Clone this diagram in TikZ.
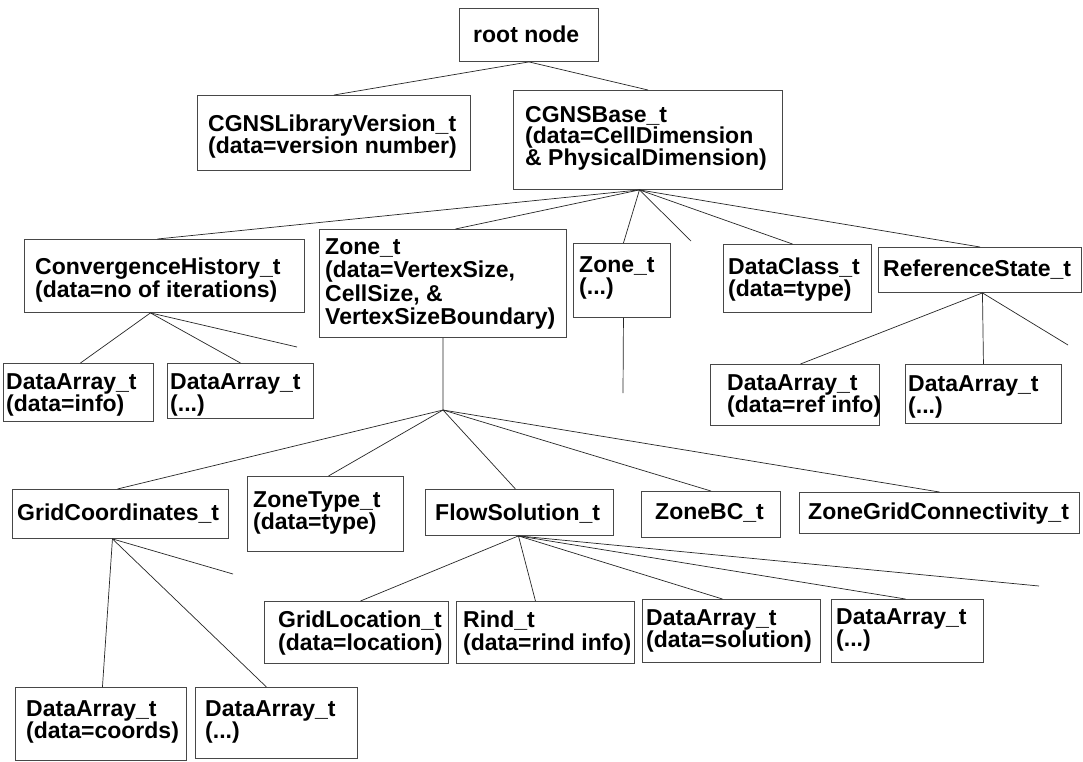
\documentclass[tikz,border=0pt]{standalone}
\usepackage{fontspec}
\setmainfont{Liberation Sans}
\usetikzlibrary{calc}
\tikzset{
  boxst/.style={draw=black!72, line width=0.9pt, inner sep=0pt, anchor=north west, fill=white},
  txt/.style={font=\fontsize{23}{#1}\selectfont\bfseries, inner sep=0pt, anchor=north west, align=left},
  txt/.default=21,
  link/.style={draw=black!85, line width=0.7pt}
}
\newcommand\cgbox[5]{%
  \pgfmathsetmacro\cgw{#4-#2}\pgfmathsetmacro\cgh{#5-#3}%
  \node[boxst, minimum width=\cgw pt, minimum height=\cgh pt] (#1) at (#2,#3) {};}
\begin{document}
\begin{tikzpicture}[x=1pt,y=-1pt]
\fill[white] (0,0) rectangle (1083,761);
\useasboundingbox (0,0) rectangle (1083,761);

% boxes
\cgbox{root}{459}{8}{598}{61}
\cgbox{lib}{197}{95}{470}{170}
\cgbox{base}{513}{90}{782}{189}
\cgbox{conv}{24}{239}{304}{312}
\cgbox{zone}{319}{229}{566}{337}
\cgbox{zonetwo}{573}{243}{670}{317}
\cgbox{dclass}{723}{244}{871}{312}
\cgbox{refst}{878}{247}{1081}{292}
\cgbox{dainfo}{3}{363}{153}{421}
\cgbox{daconv}{167}{363}{313}{418}
\cgbox{daref}{710}{364}{879}{425}
\cgbox{darefb}{905}{364}{1061}{423}
\cgbox{grid}{12}{489}{228}{538}
\cgbox{ztype}{247}{476}{403}{551}
\cgbox{flow}{425}{489}{613}{535}
\cgbox{zbc}{641}{491}{780}{537}
\cgbox{zgc}{799}{492}{1079}{533}
\cgbox{gloc}{264}{601}{448}{663}
\cgbox{rind}{456}{601}{634}{663}
\cgbox{dasol}{642}{599}{820}{662}
\cgbox{daflow}{831}{599}{983}{662}
\cgbox{dacoord}{15}{687}{186}{760}
\cgbox{dagrid}{195}{687}{357}{758}

% texts
\node[txt] (root-t) at (473,25.5) {root node};
\node[txt=20.5] (lib-t) at (208,114.5) {CGNSLibraryVersion\_t\\(data=version number)};
\node[txt=21.5] (base-t) at (525,106) {CGNSBase\_t\\(data=CellDimension\\\& PhysicalDimension)};
\node[txt=21] (conv-t) at (35,258) {ConvergenceHistory\_t\\(data=no of iterations)};
\node[txt=23.3] (zone-t) at (325,238.5) {Zone\_t\\(data=VertexSize,\\CellSize, \&\\VertexSizeBoundary)};
\node[txt=22] (zonetwo-t) at (579,256.5) {Zone\_t\\(...)};
\node[txt=21.5] (dclass-t) at (728,258) {DataClass\_t\\(data=type)};
\node[txt] (refst-t) at (883,259.5) {ReferenceState\_t};
\node[txt=22] (dainfo-t) at (6,373.5) {DataArray\_t\\(data=info)};
\node[txt=22] (daconv-t) at (170,373.5) {DataArray\_t\\(...)};
\node[txt] (daref-t) at (727,374.5) {DataArray\_t\\(data=ref info)};
\node[txt] (darefb-t) at (908,375.5) {DataArray\_t\\(...)};
\node[txt] (grid-t) at (17,503.5) {GridCoordinates\_t};
\node[txt=22] (ztype-t) at (253,491.5) {ZoneType\_t\\(data=type)};
\node[txt] (flow-t) at (435,503.5) {FlowSolution\_t};
\node[txt] (zbc-t) at (655,503.5) {ZoneBC\_t};
\node[txt] (zgc-t) at (808,502.5) {ZoneGridConnectivity\_t};
\node[txt=23] (gloc-t) at (278,610.5) {GridLocation\_t\\(data=location)};
\node[txt=23] (rind-t) at (463,610.5) {Rind\_t\\(data=rind info)};
\node[txt=22] (dasol-t) at (646,609.5) {DataArray\_t\\(data=solution)};
\node[txt=22] (daflow-t) at (836,608.5) {DataArray\_t\\(...)};
\node[txt] (dacoord-t) at (26,700.5) {DataArray\_t\\(data=coords)};
\node[txt] (dagrid-t) at (205,700.5) {DataArray\_t\\(...)};

% junctions and free ends
\coordinate (zhub) at (443,410);
\coordinate (ztwoend) at (623,393);
\coordinate (basefree) at (691,241);
\coordinate (convfree) at (297,347);
\coordinate (reffree) at (1068,345);
\coordinate (gridfree) at (233,574);
\coordinate (flowfree) at (1039,586);

% connectors
\draw[link] (root.south) -- (lib.north);
\draw[link] (root.south) -- (base.north);

\draw[link] ([xshift=-8.5pt]base.south) -- ([xshift=-7pt]conv.north);
\draw[link] ([xshift=-8.5pt]base.south) -- ([xshift=12.5pt]zone.north);
\draw[link] ([xshift=-8.5pt]base.south) -- ([xshift=1.5pt]zonetwo.north);
\draw[link] ([xshift=-8.5pt]base.south) -- (basefree);
\draw[link] ([xshift=-8.5pt]base.south) -- ([xshift=-5pt]dclass.north);
\draw[link] ([xshift=-8.5pt]base.south) -- (refst.north);

\draw[link] ([xshift=-14pt]conv.south) -- ([xshift=2pt]dainfo.north);
\draw[link] ([xshift=-14pt]conv.south) -- (daconv.north);
\draw[link] ([xshift=-14pt]conv.south) -- (convfree);

\draw[link] ([xshift=1.5pt]zonetwo.south) -- (ztwoend);

\draw[link] ([xshift=2.5pt]refst.south) -- ([xshift=5.5pt]daref.north);
\draw[link] ([xshift=2.5pt]refst.south) -- (darefb.north);
\draw[link] ([xshift=2.5pt]refst.south) -- (reffree);

\draw[link] (zone.south) -- (zhub);
\draw[link] (zhub) -- ([xshift=-3pt]grid.north);
\draw[link] (zhub) -- ([xshift=3pt]ztype.north);
\draw[link] (zhub) -- ([xshift=-4pt]flow.north);
\draw[link] (zhub) -- (zbc.north);
\draw[link] (zhub) -- (zgc.north);

\draw[link] ([xshift=-8pt]grid.south) -- ([xshift=1.5pt]dacoord.north);
\draw[link] ([xshift=-8pt]grid.south) -- ([xshift=-10pt]dagrid.north);
\draw[link] ([xshift=-8pt]grid.south) -- (gridfree);

\draw[link] ([xshift=-1pt]flow.south) -- ([xshift=4pt]gloc.north);
\draw[link] ([xshift=-1pt]flow.south) -- ([xshift=-10pt]rind.north);
\draw[link] ([xshift=-1pt]flow.south) -- ([xshift=-9pt]dasol.north);
\draw[link] ([xshift=-1pt]flow.south) -- ([xshift=-2pt]daflow.north);
\draw[link] ([xshift=-1pt]flow.south) -- (flowfree);
\end{tikzpicture}
\end{document}
